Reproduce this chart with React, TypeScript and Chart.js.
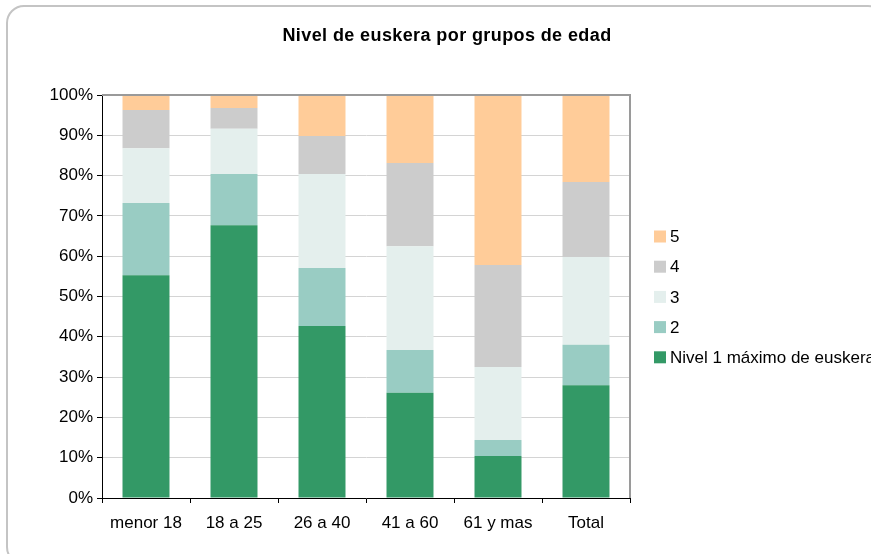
import React, { useEffect, useRef } from "react";
import { Chart, registerables } from "chart.js";

Chart.register(...registerables);

const TITLE = "Nivel de euskera por grupos de edad";
const categories = ["menor 18", "18 a 25", "26 a 40", "41 a 60", "61 y mas", "Total"];
const seriesNames = ["Nivel 1 máximo de euskera", "2", "3", "4", "5"];
const nivel1 = [55.3, 67.7, 42.7, 26.1, 10.4, 28.0];
const nivel2 = [17.9, 12.7, 14.4, 10.6, 4.0, 10.0];
const nivel3 = [13.6, 11.2, 23.3, 25.8, 18.1, 21.8];
const nivel4 = [9.5, 5.2, 9.4, 20.6, 25.3, 18.6];
const nivel5 = [3.7, 3.2, 10.2, 16.9, 42.2, 21.6];
const colors = ["#339966", "#99CCC3", "#E4EFED", "#CCCCCC", "#FFCC99"];
const yTicks = [0, 10, 20, 30, 40, 50, 60, 70, 80, 90, 100];

const FONT = "'Liberation Sans', Arial, sans-serif";

export default function App() {
  const ref = useRef<HTMLCanvasElement | null>(null);

  useEffect(() => {
    if (!ref.current) return;
    const values = [nivel1, nivel2, nivel3, nivel4, nivel5];

    const decor = {
      id: "decor",
      afterDraw(chart: any) {
        const ctx = chart.ctx;
        const a = chart.chartArea;
        ctx.save();
        // top & right border of plot area
        ctx.strokeStyle = "#9a9a9a";
        ctx.lineWidth = 2;
        ctx.beginPath();
        ctx.moveTo(a.left, a.top);
        ctx.lineTo(a.right, a.top);
        ctx.lineTo(a.right, a.bottom);
        ctx.stroke();
        // title
        ctx.fillStyle = "#000";
        ctx.font = `bold 18px ${FONT}`;
        try {
          (ctx as any).letterSpacing = "0.4px";
        } catch (e) {}
        ctx.textAlign = "center";
        ctx.textBaseline = "alphabetic";
        ctx.fillText(TITLE, 447, 41);
        try {
          (ctx as any).letterSpacing = "0px";
        } catch (e) {}
        // legend (reversed order)
        ctx.font = `17px ${FONT}`;
        ctx.textAlign = "left";
        ctx.textBaseline = "middle";
        for (let i = 0; i < seriesNames.length; i++) {
          const idx = seriesNames.length - 1 - i;
          const cy = 236.5 + i * 30.2;
          ctx.fillStyle = colors[idx];
          ctx.fillRect(654, cy - 6, 12, 12);
          ctx.fillStyle = "#000";
          ctx.fillText(seriesNames[idx], 670, cy + 1);
        }
        ctx.restore();
      },
    };

    const chart = new Chart(ref.current, {
      type: "bar",
      data: {
        labels: categories,
        datasets: values.map((v, i) => ({
          label: seriesNames[i],
          data: v,
          backgroundColor: colors[i],
          borderWidth: 0,
          barPercentage: 0.534,
          categoryPercentage: 1,
        })),
      },
      options: {
        animation: false,
        responsive: false,
        devicePixelRatio: 1,
        layout: { padding: { left: 0, right: 241, top: 95, bottom: 0 } },
        plugins: {
          legend: { display: false },
          title: { display: false },
          tooltip: { enabled: false },
        },
        scales: {
          x: {
            stacked: true,
            grid: {
              offset: true,
              drawOnChartArea: false,
              drawTicks: true,
              tickLength: 5,
              tickColor: "#000",
            },
            border: { color: "#000", width: 1 },
            ticks: { color: "#000", font: { family: FONT, size: 17 }, padding: 10 },
            afterFit: (s: any) => {
              s.height = 56;
            },
          },
          y: {
            stacked: true,
            min: 0,
            max: 100,
            grid: {
              color: "#d4d4d4",
              drawTicks: true,
              tickLength: 5,
              tickColor: "#000",
            },
            border: { color: "#000", width: 1 },
            afterBuildTicks: (s: any) => {
              s.ticks = yTicks.map((v) => ({ value: v }));
            },
            ticks: {
              color: "#000",
              font: { family: FONT, size: 17 },
              padding: 4,
              callback: (v: any) => `${v}%`,
            },
            afterFit: (s: any) => {
              s.width = 102;
            },
          },
        },
      },
      plugins: [decor],
    });
    return () => chart.destroy();
  }, []);

  return (
    <div style={{ position: "absolute", left: 0, top: 0, width: 871, height: 554, overflow: "hidden", background: "#fff" }}>
      <div
        style={{
          position: "absolute",
          left: 6,
          top: 5,
          width: 880,
          height: 560,
          border: "2px solid #c4c4c4",
          borderRadius: 18,
          boxSizing: "border-box",
        }}
      />
      <canvas ref={ref} width={871} height={554} style={{ position: "absolute", left: 0, top: 0 }} />
    </div>
  );
}
